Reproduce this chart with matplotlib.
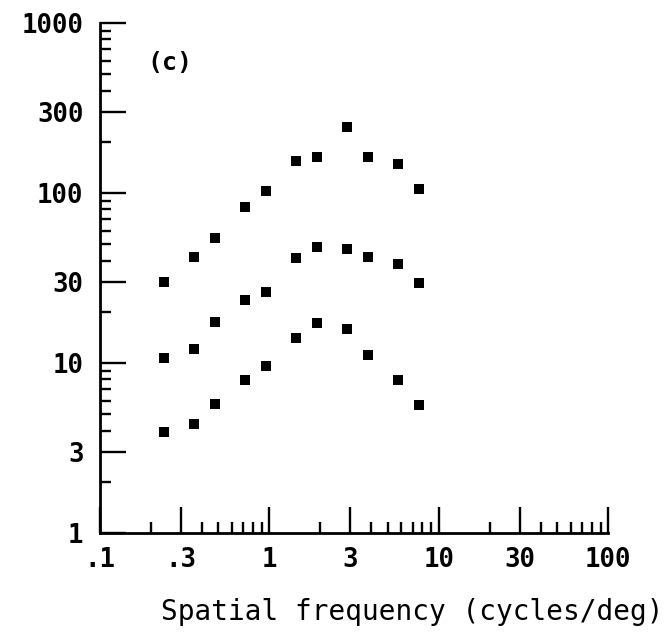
import numpy as np
import matplotlib
matplotlib.use('Agg')
import matplotlib.pyplot as plt
from matplotlib.ticker import FixedLocator, LogLocator, NullFormatter

# spatial frequencies (cycles/deg)
freq = [0.24, 0.36, 0.48, 0.72, 0.96, 1.44, 1.92, 2.88, 3.84, 5.76, 7.68]

# three curves, top to bottom
sens_top = [29.9, 42, 54.4, 82.7, 103, 154, 163, 244, 163, 148, 106]
sens_mid = [10.7, 12.1, 17.4, 23.5, 26.2, 41.5, 48.1, 46.9, 42, 38.2, 29.5]
sens_low = [3.93, 4.38, 5.74, 7.94, 9.6, 14.0, 17.2, 15.8, 11.1, 7.94, 5.66]

xticks = [0.1, 0.3, 1, 3, 10, 30, 100]
xticklabels = ['.1', '.3', '1', '3', '10', '30', '100']
yticks = [1, 3, 10, 30, 100, 300, 1000]
yticklabels = ['1', '3', '10', '30', '100', '300', '1000']

plt.rcParams['font.family'] = 'DejaVu Sans Mono'
plt.rcParams['font.weight'] = 'bold'

fig = plt.figure(figsize=(6.67, 6.39), dpi=100)
ax = fig.add_axes([0.150, 0.166, 0.762, 0.798])

for s in (sens_top, sens_mid, sens_low):
    ax.plot(freq, s, 's', color='black', ms=7.5, mew=0)

ax.set_xscale('log')
ax.set_yscale('log')
ax.set_xlim(0.1, 100)
ax.set_ylim(1, 1000)

ax.spines['top'].set_visible(False)
ax.spines['right'].set_visible(False)
ax.spines['left'].set_linewidth(2)
ax.spines['bottom'].set_linewidth(2)

ax.xaxis.set_major_locator(FixedLocator(xticks))
ax.set_xticklabels(xticklabels)
ax.yaxis.set_major_locator(FixedLocator(yticks))
ax.set_yticklabels(yticklabels)
ax.xaxis.set_minor_locator(LogLocator(base=10, subs=[2, 4, 5, 6, 7, 8, 9]))
ax.yaxis.set_minor_locator(LogLocator(base=10, subs=[2, 4, 5, 6, 7, 8, 9]))
ax.xaxis.set_minor_formatter(NullFormatter())
ax.yaxis.set_minor_formatter(NullFormatter())

ax.tick_params(which='major', direction='in', length=19, width=1.7, labelsize=18.5)
ax.tick_params(which='minor', direction='in', length=8, width=1.7)
ax.tick_params(axis='y', which='major', pad=12)
ax.tick_params(axis='x', which='major', pad=10)
ax.tick_params(top=False, right=False, which='both')

fig.text(147 / 667, 1 - 63 / 639, '(c)', fontsize=18, va='center', ha='left')
fig.text(412 / 667, 1 - 612 / 639, 'Spatial frequency (cycles/deg)',
         fontsize=20, ha='center', va='center', fontweight='normal')

fig.savefig('out.png', dpi=100)
